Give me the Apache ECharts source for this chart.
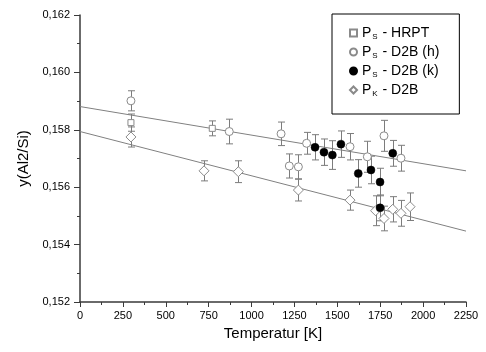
<!DOCTYPE html>
<html>
<head>
<meta charset="utf-8">
<script src="https://cdn.jsdelivr.net/npm/echarts@6/dist/echarts.min.js"></script>
<style>
  html, body { margin: 0; padding: 0; background: #fff; }
  #chart { width: 486px; height: 352px; }
</style>
</head>
<body>
<div id="chart"></div>
<script>
// P_S - HRPT
const hrptT = [297, 771];
const hrptY = [0.15825, 0.15805];
const hrptE = [0.0003, 0.00026];

// P_S - D2B (h)
const d2bhT = [297, 870, 1172, 1220, 1273, 1321, 1574, 1675, 1772, 1871];
const d2bhY = [0.15901, 0.15794, 0.15786, 0.15674, 0.15671, 0.15753, 0.15741, 0.15706, 0.15779, 0.15701];
const d2bhE = [0.00035, 0.00043, 0.00041, 0.00042, 0.00042, 0.00038, 0.00046, 0.00054, 0.00054, 0.00045];

// P_S - D2B (k)
const d2bkT = [1370, 1422, 1471, 1521, 1622, 1696, 1749, 1749, 1823];
const d2bkY = [0.15739, 0.15722, 0.15712, 0.1575, 0.15648, 0.1566, 0.15618, 0.15528, 0.15718];
const d2bkE = [0.00044, 0.00046, 0.0005, 0.00046, 0.00048, 0.00048, 0.00048, 0.00045, 0.00045];

// P_K - D2B
const pkT = [297, 723, 923, 1273, 1574, 1723, 1772, 1823, 1871, 1924];
const pkY = [0.15775, 0.15657, 0.15654, 0.1559, 0.15555, 0.15518, 0.15491, 0.15523, 0.15509, 0.15532];
const pkE = [0.00035, 0.00035, 0.00038, 0.00038, 0.00035, 0.00052, 0.00043, 0.00044, 0.00045, 0.00048];

// linear fits
const fitUpper = [[0, 0.15881], [2250, 0.15657]];
const fitLower = [[0, 0.15794], [2250, 0.15447]];

const seriesNames = ['PS - HRPT', 'PS - D2B (h)', 'PS - D2B (k)', 'PK - D2B'];
const legendSubs = ['S', 'S', 'S', 'K'];
const legendTails = [' - HRPT', ' - D2B (h)', ' - D2B (k)', ' - D2B'];

const FONT = '"Liberation Sans", Arial, sans-serif';
const AXIS = '#3a3a3a';
const BAR = '#7c7c7c';
const MARK = '#8a8a8a';

const pts = (t, y, e) => t.map((v, i) => e ? [v, y[i], e[i]] : [v, y[i]]);

function errorBars(params, api) {
  const x = api.value(0), y = api.value(1), e = api.value(2);
  const lo = api.coord([x, y - e]);
  const hi = api.coord([x, y + e]);
  const cx = Math.round(lo[0]) + 0.5;
  const w = 3.5;
  const style = { stroke: BAR, lineWidth: 1 };
  return {
    type: 'group',
    children: [
      { type: 'line', shape: { x1: cx, y1: lo[1], x2: cx, y2: hi[1] }, style },
      { type: 'line', shape: { x1: cx - w, y1: lo[1], x2: cx + w, y2: lo[1] }, style },
      { type: 'line', shape: { x1: cx - w, y1: hi[1], x2: cx + w, y2: hi[1] }, style },
    ],
  };
}

function errSeries(data) {
  return {
    type: 'custom',
    renderItem: errorBars,
    data,
    z: 2,
    silent: true,
  };
}

function fitSeries(data) {
  return {
    type: 'line',
    data,
    symbol: 'none',
    lineStyle: { color: '#808080', width: 1 },
    z: 1,
    silent: true,
  };
}

const chart = echarts.init(document.getElementById('chart'));

chart.setOption({
  animation: false,
  grid: { left: 80, right: 20, top: 15, bottom: 50 },
  legend: {
    orient: 'vertical',
    left: 332,
    top: 14,
    padding: [12, 20, 16, 17],
    itemGap: 4,
    itemWidth: 7,
    itemHeight: 7,
    borderColor: '#000',
    borderWidth: 1,
    data: seriesNames,
    formatter: (name) => {
      const i = seriesNames.indexOf(name);
      return '{m|P}{s|' + legendSubs[i] + '}{m|' + legendTails[i] + '}';
    },
    textStyle: {
      fontFamily: FONT,
      color: '#000',
      rich: {
        m: { fontSize: 14, lineHeight: 16, fontFamily: FONT, color: '#000' },
        s: { fontSize: 8, lineHeight: 8, verticalAlign: 'bottom', padding: [0, 1, 0, 1], fontFamily: FONT, color: '#000' },
      },
    },
  },
  xAxis: {
    type: 'value',
    min: 0,
    max: 2250,
    interval: 250,
    name: 'Temperatur [K]',
    nameLocation: 'middle',
    nameGap: 20,
    nameTextStyle: { fontFamily: FONT, fontSize: 15, color: '#000' },
    axisLine: { show: true, onZero: false, lineStyle: { color: AXIS, width: 1.5 } },
    axisTick: { show: true, inside: false, length: 5, lineStyle: { color: AXIS } },
    minorTick: { show: true, splitNumber: 2, length: 3, lineStyle: { color: AXIS } },
    axisLabel: {
      fontFamily: FONT,
      fontSize: 11,
      color: '#000',
      margin: 8,
      formatter: (v) => String(v),
    },
    splitLine: { show: false },
  },
  yAxis: {
    type: 'value',
    min: 0.152,
    max: 0.162,
    interval: 0.002,
    name: 'y(Al2/Si)',
    nameLocation: 'middle',
    nameGap: 48,
    nameTextStyle: { fontFamily: FONT, fontSize: 15, color: '#000' },
    axisLine: { show: true, onZero: false, lineStyle: { color: AXIS, width: 1.5 } },
    axisTick: { show: true, inside: false, length: 6, lineStyle: { color: AXIS } },
    minorTick: { show: true, splitNumber: 2, length: 3, lineStyle: { color: AXIS } },
    axisLabel: {
      fontFamily: FONT,
      fontSize: 11,
      color: '#000',
      margin: 10,
      formatter: (v) => v.toFixed(3).replace('.', ','),
    },
    splitLine: { show: false },
  },
  series: [
    fitSeries(fitUpper),
    fitSeries(fitLower),
    errSeries(pts(hrptT, hrptY, hrptE)),
    errSeries(pts(d2bhT, d2bhY, d2bhE)),
    errSeries(pts(d2bkT, d2bkY, d2bkE)),
    errSeries(pts(pkT, pkY, pkE)),
    {
      name: seriesNames[0],
      type: 'scatter',
      data: pts(hrptT, hrptY),
      symbol: 'rect',
      symbolSize: 6,
      itemStyle: { color: '#fff', borderColor: MARK, borderWidth: 1, opacity: 1 },
      z: 5,
    },
    {
      name: seriesNames[1],
      type: 'scatter',
      data: pts(d2bhT, d2bhY),
      symbol: 'circle',
      symbolSize: 8,
      itemStyle: { color: '#fff', borderColor: MARK, borderWidth: 1, opacity: 1 },
      z: 5,
    },
    {
      name: seriesNames[2],
      type: 'scatter',
      data: pts(d2bkT, d2bkY),
      symbol: 'circle',
      symbolSize: 8,
      itemStyle: { color: '#000', borderColor: '#000', borderWidth: 0.5, opacity: 1 },
      z: 6,
    },
    {
      name: seriesNames[3],
      type: 'scatter',
      data: pts(pkT, pkY),
      symbol: 'diamond',
      symbolSize: 10,
      itemStyle: { color: '#fff', borderColor: MARK, borderWidth: 1, opacity: 1 },
      z: 5,
    },
  ],
});
</script>
</body>
</html>
